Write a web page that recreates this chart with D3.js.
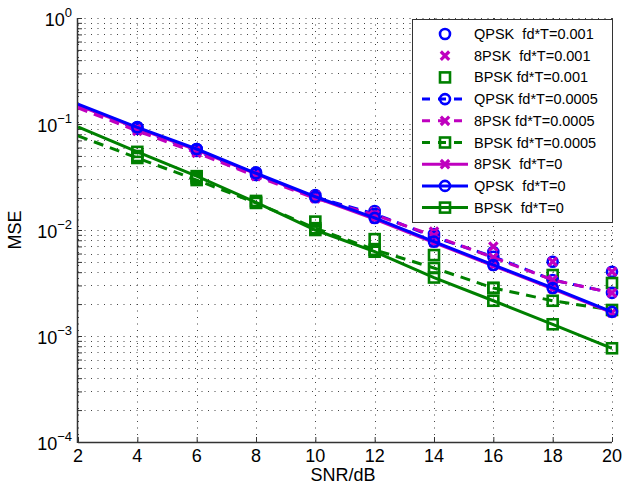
<!DOCTYPE html>
<html>
<head>
<meta charset="utf-8">
<title>MSE vs SNR</title>
<script src="https://d3js.org/d3.v7.min.js"></script>
<style>
  body { margin: 0; background: #fff; }
  svg text { font-family: "Liberation Sans", Arial, sans-serif; fill: #000; }
</style>
</head>
<body>
<svg id="chart" width="635" height="486"></svg>
<script>
// SNR points (dB); fd*T=0.001 results are markers only, from 4 dB
var snr = [2, 4, 6, 8, 10, 12, 14, 16, 18, 20];
var snrMarks = [4, 6, 8, 10, 12, 14, 16, 18, 20];

var qpsk001 = [0.0938, 0.0581, 0.0350, 0.0214, 0.0151, 0.00917, 0.0062, 0.00502, 0.00404];
var psk8_001 = [0.0917, 0.0568, 0.0340, 0.0211, 0.0148, 0.00964, 0.00696, 0.00502, 0.00404];
var bpsk001 = [0.0499, 0.0309, 0.0188, 0.0120, 0.0082, 0.0058, 0.00284, 0.00376, 0.00316];

var qpsk0005 = [0.151, 0.090, 0.0556, 0.033, 0.0204, 0.0142, 0.00859, 0.0056, 0.00338, 0.00255];
var psk8_0005 = [0.142, 0.0859, 0.0534, 0.0322, 0.0199, 0.0139, 0.0088, 0.0055, 0.00338, 0.00255];
var bpsk0005 = [0.0774, 0.0478, 0.0296, 0.0180, 0.0104, 0.0065, 0.00438, 0.00284, 0.00215, 0.00176];

var psk8_0 = [0.150, 0.0917, 0.0568, 0.0338, 0.0202, 0.0127, 0.0076, 0.0046, 0.00278, 0.00166];
var qpsk0 = [0.154, 0.0931, 0.0581, 0.0343, 0.0206, 0.0130, 0.00776, 0.00468, 0.00284, 0.00169];
var bpsk0 = [0.0938, 0.0546, 0.0322, 0.0182, 0.0100, 0.00624, 0.00356, 0.00215, 0.00129, 0.000766];

var xTicks = [2, 4, 6, 8, 10, 12, 14, 16, 18, 20];
var yDecades = [-4, -3, -2, -1, 0];

var blue = "#0000ff", magenta = "#bf00bf", green = "#008000";

// plotting order = legend order
var series = [
  {name: "QPSK  fd*T=0.001", x: snrMarks, y: qpsk001, color: blue, marker: "o", line: null},
  {name: "8PSK  fd*T=0.001", x: snrMarks, y: psk8_001, color: magenta, marker: "x", line: null},
  {name: "BPSK fd*T=0.001", x: snrMarks, y: bpsk001, color: green, marker: "s", line: null},
  {name: "QPSK fd*T=0.0005", x: snr, y: qpsk0005, color: blue, marker: "o", line: "dash"},
  {name: "8PSK fd*T=0.0005", x: snr, y: psk8_0005, color: magenta, marker: "x", line: "dash"},
  {name: "BPSK fd*T=0.0005", x: snr, y: bpsk0005, color: green, marker: "s", line: "dash"},
  {name: "8PSK  fd*T=0", x: snr, y: psk8_0, color: magenta, marker: "x", line: "solid"},
  {name: "QPSK  fd*T=0", x: snr, y: qpsk0, color: blue, marker: "o", line: "solid"},
  {name: "BPSK  fd*T=0", x: snr, y: bpsk0, color: green, marker: "s", line: "solid"}
];

var pL = 78, pR = 612, pT = 18, pB = 442;

var svg = d3.select("#chart");

var x = d3.scaleLinear().domain([2, 20]).range([pL, pR]);
var y = d3.scaleLog().domain([1e-4, 1]).range([pB, pT]);

// grid (dotted)
var grid = svg.append("g")
  .attr("stroke", "#444")
  .attr("stroke-width", 1)
  .attr("stroke-dasharray", "1,5.5");

grid.selectAll("line.gx")
  .data(xTicks)
  .enter()
  .append("line")
  .attr("x1", function(d) { return Math.round(x(d)) + 0.5; })
  .attr("x2", function(d) { return Math.round(x(d)) + 0.5; })
  .attr("y1", pT)
  .attr("y2", pB);

var yGridVals = [];
yDecades.forEach(function(e) {
  if (e == 0) { yGridVals.push(1); return; }
  for (var k = 1; k < 10; k++) yGridVals.push(k * Math.pow(10, e));
});

grid.selectAll("line.gy")
  .data(yGridVals)
  .enter()
  .append("line")
  .attr("x1", pL)
  .attr("x2", pR)
  .attr("y1", function(d) { return Math.round(y(d)) + 0.5; })
  .attr("y2", function(d) { return Math.round(y(d)) + 0.5; });

// axes
var axX = svg.append("g").attr("transform", "translate(0," + pB + ")");
axX.call(d3.axisBottom(x).tickValues(xTicks).tickSize(-5).tickFormat(""));
axX.select(".domain").remove();
axX.selectAll("line").attr("stroke", "#333");

var axY = svg.append("g").attr("transform", "translate(" + pL + ",0)");
axY.call(d3.axisLeft(y).tickValues(yGridVals).tickSize(-4).tickFormat(""));
axY.select(".domain").remove();
axY.selectAll("line").attr("stroke", "#333");

svg.append("line")
  .attr("x1", pL).attr("x2", pR)
  .attr("y1", pB + 0.5).attr("y2", pB + 0.5)
  .attr("stroke", "#333").attr("stroke-width", 1.5);
svg.append("line")
  .attr("x1", pL - 0.5).attr("x2", pL - 0.5)
  .attr("y1", pT).attr("y2", pB + 1)
  .attr("stroke", "#333").attr("stroke-width", 1.5);

// tick labels
svg.selectAll("text.xt")
  .data(xTicks)
  .enter()
  .append("text")
  .attr("x", function(d) { return x(d); })
  .attr("y", pB + 20)
  .attr("text-anchor", "middle")
  .attr("font-size", 18)
  .text(function(d) { return d; });

var yl = svg.selectAll("text.yt")
  .data(yDecades)
  .enter()
  .append("text")
  .attr("x", pL - 6)
  .attr("y", function(d) { return y(Math.pow(10, d)) + 8; })
  .attr("text-anchor", "end")
  .attr("font-size", 18);
yl.append("tspan").text("10");
yl.append("tspan")
  .attr("dy", -9)
  .attr("font-size", 13)
  .text(function(d) { return d == 0 ? "0" : "\u2212" + (-d); });

svg.append("text")
  .attr("x", (pL + pR) / 2 - 2)
  .attr("y", 481)
  .attr("text-anchor", "middle")
  .attr("font-size", 18)
  .text("SNR/dB");

svg.append("text")
  .attr("transform", "translate(21," + (pT + pB) / 2 + ") rotate(-90)")
  .attr("text-anchor", "middle")
  .attr("font-size", 18)
  .text("MSE");

// data
var plot = svg.append("g");
plot.append("clipPath").attr("id", "clip")
  .append("rect").attr("x", pL).attr("y", pT)
  .attr("width", pR - pL).attr("height", pB - pT);

function drawMarker(g, type, color, cx, cy) {
  if (type == "o") {
    g.append("circle").attr("cx", cx).attr("cy", cy).attr("r", 5)
      .attr("fill", "none").attr("stroke", color).attr("stroke-width", 2.6);
  } else if (type == "s") {
    g.append("rect").attr("x", cx - 5).attr("y", cy - 5)
      .attr("width", 10).attr("height", 10)
      .attr("fill", "none").attr("stroke", color).attr("stroke-width", 2.6);
  } else {
    var r = 4.2;
    g.append("path")
      .attr("d", "M" + (cx - r) + "," + (cy - r) + "L" + (cx + r) + "," + (cy + r) +
                 "M" + (cx - r) + "," + (cy + r) + "L" + (cx + r) + "," + (cy - r))
      .attr("stroke", color).attr("stroke-width", 3.2).attr("fill", "none");
  }
}

var lineGen = d3.line()
  .x(function(d) { return x(d[0]); })
  .y(function(d) { return y(d[1]); });

series.forEach(function(s) {
  var pts = s.x.map(function(v, i) { return [v, s.y[i]]; });
  var g = plot.append("g");
  if (s.line) {
    g.append("path")
      .attr("d", lineGen(pts))
      .attr("fill", "none")
      .attr("stroke", s.color)
      .attr("stroke-width", 3)
      .attr("stroke-dasharray", s.line == "dash" ? "10,7" : null)
      .attr("clip-path", "url(#clip)");
  }
  pts.forEach(function(p) {
    if (p[0] > 2) drawMarker(g, s.marker, s.color, x(p[0]), y(p[1]));
  });
});

// legend
var lg = svg.append("g");
lg.append("rect")
  .attr("x", 412.5).attr("y", 19.5)
  .attr("width", 200).attr("height", 203)
  .attr("fill", "#fff").attr("stroke", "#333").attr("stroke-width", 1);

series.forEach(function(s, i) {
  var ry = 34 + i * 21.7;
  var row = lg.append("g");
  if (s.line) {
    row.append("line")
      .attr("x1", 422).attr("x2", 468)
      .attr("y1", ry).attr("y2", ry)
      .attr("stroke", s.color).attr("stroke-width", 3)
      .attr("stroke-dasharray", s.line == "dash" ? "8,8" : null);
  }
  drawMarker(row, s.marker, s.color, 445, ry);
  row.append("text")
    .attr("x", 474).attr("y", ry + 5)
    .attr("font-size", 14.5)
    .attr("xml:space", "preserve")
    .style("white-space", "pre")
    .text(s.name);
});
</script>
</body>
</html>
